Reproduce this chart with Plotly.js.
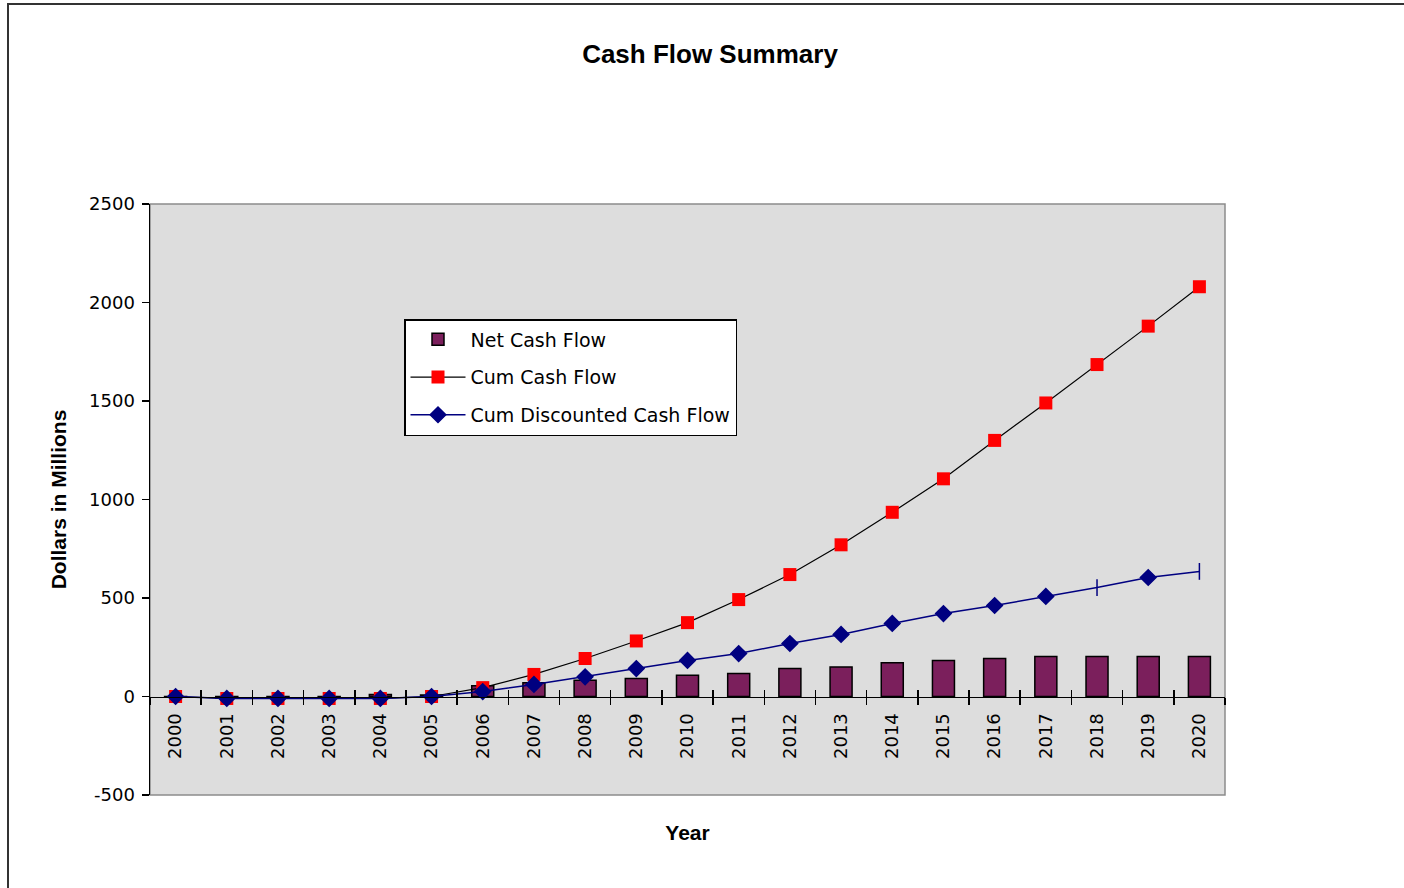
<!DOCTYPE html>
<html>
<head>
<meta charset="utf-8">
<script src="https://cdn.plot.ly/plotly-3.0.1.min.js"></script>
<style>
  html, body { margin: 0; padding: 0; background: #ffffff; }
  #wrap { position: relative; width: 1404px; height: 888px; overflow: hidden; }
  #chart { width: 1404px; height: 888px; }
  .frameTop { position: absolute; left: 8px; top: 3px; width: 1396px; height: 2px; background: #333; }
  .frameLeft { position: absolute; left: 7px; top: 3px; width: 2px; height: 885px; background: #333; }
</style>
</head>
<body>
<div id="wrap">
  <div id="chart"></div>
  <div class="frameTop"></div>
  <div class="frameLeft"></div>
</div>
<script>
const years = ["2000","2001","2002","2003","2004","2005","2006","2007","2008","2009","2010",
               "2011","2012","2013","2014","2015","2016","2017","2018","2019","2020"];
const netCashFlow = [-3, -8, -6, -4, 10, 8, 55, 70, 83, 92, 108, 117, 142, 150, 171, 183, 193, 203, 203, 203, 203];
const cumCashFlow = [0, -10, -10, -10, -10, 0, 45, 112, 193, 282, 375, 492, 619, 770, 935, 1105, 1300, 1490, 1685, 1880, 2080];
const cumDiscountedCashFlow = [0, -10, -10, -10, -10, 0, 25, 61, 100, 142, 183, 218, 269, 315, 371, 421, 462, 508, 553, 604, 635];
const seriesNames = ["Net Cash Flow", "Cum Cash Flow", "Cum Discounted Cash Flow"];
const yTickVals = [-500, 0, 500, 1000, 1500, 2000, 2500];
const yTickText = ["-500", "0", "500", "1000", "1500", "2000", "2500"];
const discSymbols = years.map((y) => (y === "2018" || y === "2020") ? "line-ns" : "diamond");

const FONT = "Liberation Sans, Arial, Helvetica, sans-serif";
const TFONT = "DejaVu Sans, Liberation Sans, Arial, sans-serif";

const traces = [
  {
    type: "bar", name: seriesNames[0], x: years, y: netCashFlow, legendgroup: "g1",
    marker: { color: "#7B1F5C", line: { color: "#000000", width: 1.5 } }
  },
  {
    type: "scatter", mode: "lines+markers", name: seriesNames[1], x: years, y: cumCashFlow, legendgroup: "g2",
    line: { color: "#000000", width: 1.2 },
    marker: { symbol: "square", size: 13, color: "#FF0000", line: { width: 0 } }
  },
  {
    type: "scatter", mode: "lines+markers", name: seriesNames[2], x: years, y: cumDiscountedCashFlow, legendgroup: "g3",
    line: { color: "#000080", width: 1.5 },
    marker: { symbol: discSymbols, size: 12, color: "#000080", line: { color: "#000080", width: 1.5 } }
  },
  {
    type: "scatter", mode: "markers", x: years, y: netCashFlow, xaxis: "x2",
    marker: { opacity: 0 }, showlegend: false, hoverinfo: "skip"
  }
];

const layout = {
  width: 1404, height: 888,
  paper_bgcolor: "#ffffff",
  plot_bgcolor: "#DDDDDD",
  margin: { l: 150, r: 179, t: 204, b: 93, pad: 0 },
  font: { family: FONT, color: "#000000", size: 17 },
  title: {
    text: "<b>Cash Flow Summary</b>",
    font: { family: FONT, size: 26, color: "#000000" },
    x: 710 / 1404, xref: "container", xanchor: "center",
    y: 1 - 54 / 888, yref: "container", yanchor: "middle"
  },
  showlegend: true,
  legend: {
    x: (404 - 150) / 1075, y: (795 - 319) / 591, xanchor: "left", yanchor: "top",
    bgcolor: "#ffffff", bordercolor: "#000000", borderwidth: 1.5,
    font: { family: TFONT, size: 19, color: "#000000" },
    itemwidth: 55, traceorder: "grouped", tracegroupgap: 10
  },
  bargap: 0.57,
  xaxis: {
    type: "category", categoryorder: "array", categoryarray: years,
    range: [-0.5, 20.5],
    anchor: "free", position: 1 / 6,
    showline: true, linecolor: "#000000", linewidth: 1.5,
    ticks: "outside", tickson: "boundaries", ticklen: 7, tickwidth: 1.5, tickcolor: "#000000",
    tickangle: -90, tickfont: { family: TFONT, size: 18 }, ticklabelstandoff: 8,
    showgrid: false, zeroline: false,
    title: { text: "<b>Year</b>", font: { family: FONT, size: 21 }, standoff: 67 }
  },
  xaxis2: {
    type: "category", categoryorder: "array", categoryarray: years,
    range: [-0.5, 20.5], matches: "x", overlaying: "x",
    anchor: "free", position: 1 / 6,
    showline: false, ticks: "inside", tickson: "boundaries", ticklen: 7, tickwidth: 1.5, tickcolor: "#000000",
    showticklabels: false, showgrid: false, zeroline: false
  },
  yaxis: {
    range: [-500, 2500], tickmode: "array", tickvals: yTickVals, ticktext: yTickText,
    showline: true, linecolor: "#000000", linewidth: 1.5,
    ticks: "outside", ticklen: 7, tickwidth: 1.5, tickcolor: "#000000",
    tickfont: { family: TFONT, size: 18 }, ticklabelstandoff: 3,
    showgrid: false, zeroline: false,
    title: { text: "<b>Dollars in Millions</b>", font: { family: FONT, size: 21 }, standoff: 16 }
  },
  shapes: [
    { type: "rect", xref: "paper", yref: "paper", x0: 0, x1: 1, y0: 0, y1: 1,
      line: { color: "#8C8C8C", width: 1.5 }, layer: "below" }
  ]
};

Plotly.newPlot("chart", traces, layout, { displayModeBar: false, staticPlot: true });
</script>
</body>
</html>
